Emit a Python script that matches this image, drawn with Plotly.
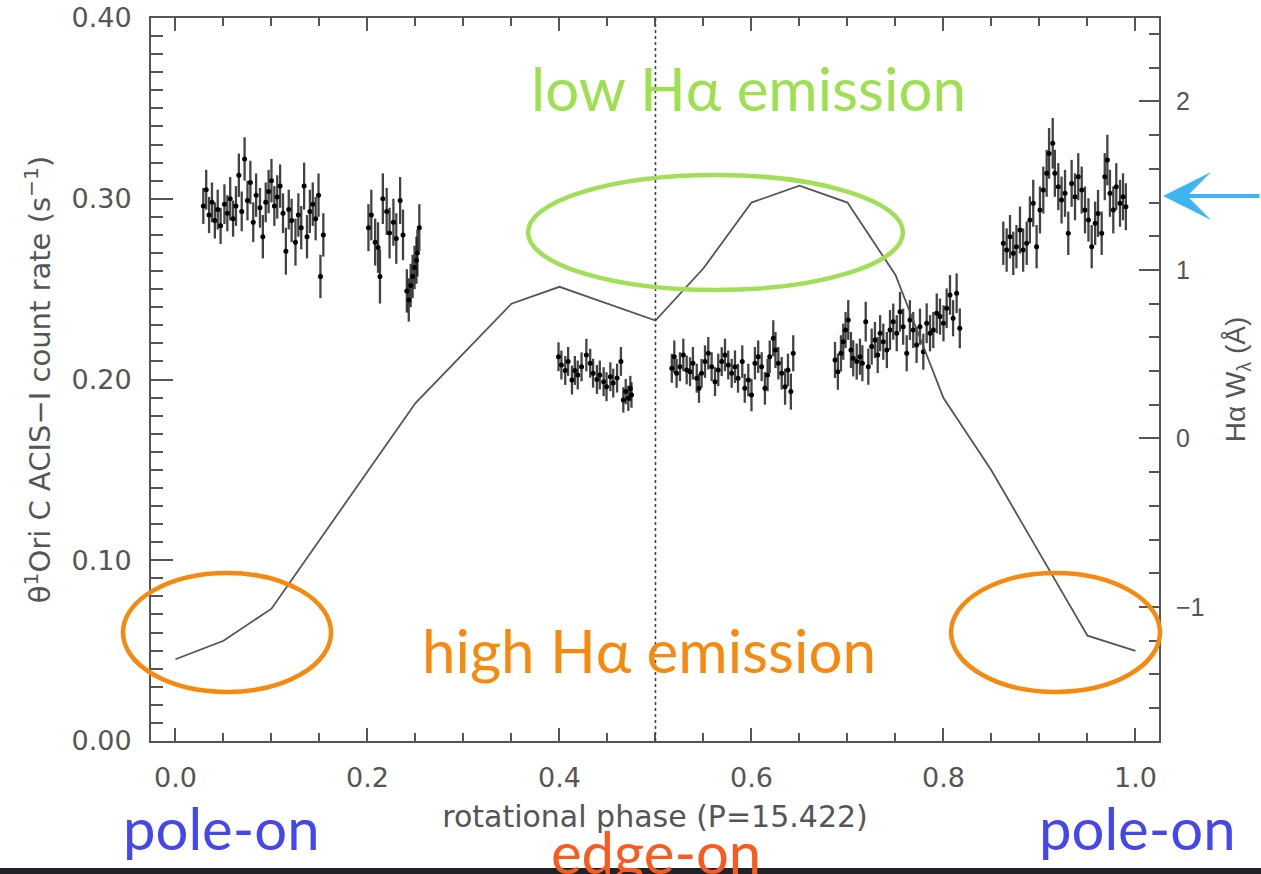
import plotly.graph_objects as go

# ---------------- data ----------------
# H-alpha equivalent width curve (right axis)
ha_phase = [0.00, 0.05, 0.10, 0.25, 0.35, 0.40, 0.50, 0.55, 0.60, 0.65, 0.70, 0.75, 0.80, 0.85, 0.90, 0.95, 1.00]
ha_width = [-1.31, -1.20, -1.01, 0.21, 0.80, 0.90, 0.70, 1.01, 1.40, 1.50, 1.40, 0.97, 0.24, -0.19, -0.68, -1.17, -1.26]

# X-ray count rate (left axis), grouped by observation
obs1_phase = [0.029, 0.032, 0.035, 0.038, 0.041, 0.044, 0.047, 0.051, 0.054, 0.057, 0.060, 0.063, 0.066, 0.069,
              0.072, 0.075, 0.078, 0.081, 0.084, 0.088, 0.091, 0.094, 0.097, 0.100, 0.103, 0.106, 0.109, 0.112,
              0.115, 0.118, 0.121, 0.125, 0.128, 0.131, 0.134, 0.137, 0.140, 0.143, 0.146, 0.149, 0.151, 0.154]
obs1_rate = [0.296, 0.305, 0.291, 0.298, 0.288, 0.294, 0.285, 0.297, 0.292, 0.300, 0.289, 0.296, 0.313, 0.293,
             0.322, 0.299, 0.309, 0.287, 0.302, 0.295, 0.279, 0.298, 0.304, 0.310, 0.296, 0.301, 0.307, 0.292,
             0.271, 0.294, 0.288, 0.276, 0.291, 0.284, 0.307, 0.279, 0.293, 0.297, 0.289, 0.302, 0.257, 0.280]
obs1_err = [0.010, 0.011, 0.010, 0.011, 0.010, 0.011, 0.010, 0.011, 0.010, 0.012, 0.010, 0.011, 0.012, 0.011,
            0.012, 0.011, 0.012, 0.011, 0.012, 0.011, 0.012, 0.011, 0.012, 0.012, 0.011, 0.012, 0.012, 0.011,
            0.013, 0.011, 0.012, 0.013, 0.012, 0.012, 0.013, 0.012, 0.012, 0.012, 0.012, 0.012, 0.012, 0.012]

obs2_phase = [0.201, 0.204, 0.208, 0.211, 0.213, 0.216, 0.220, 0.223, 0.227, 0.230, 0.234, 0.237,
              0.241, 0.243, 0.245, 0.247, 0.249, 0.251, 0.252, 0.254]
obs2_rate = [0.284, 0.291, 0.276, 0.273, 0.257, 0.300, 0.293, 0.281, 0.287, 0.278, 0.299, 0.280,
             0.249, 0.244, 0.252, 0.257, 0.262, 0.266, 0.270, 0.284]
obs2_err = [0.013, 0.014, 0.013, 0.014, 0.015, 0.014, 0.013, 0.014, 0.013, 0.014, 0.013, 0.014,
            0.012, 0.012, 0.012, 0.012, 0.012, 0.013, 0.013, 0.013]

obs3_phase = [0.399, 0.402, 0.406, 0.409, 0.413, 0.416, 0.419, 0.423, 0.428, 0.432, 0.435, 0.439,
              0.442, 0.446, 0.449, 0.453, 0.456, 0.460, 0.464, 0.4665, 0.469, 0.4717, 0.4738, 0.475]
obs3_rate = [0.2126, 0.208, 0.205, 0.210, 0.1997, 0.205, 0.2025, 0.207, 0.2135, 0.209, 0.2035, 0.200,
             0.2025, 0.1988, 0.196, 0.2015, 0.198, 0.2008, 0.210, 0.1887, 0.1933, 0.1896, 0.195, 0.1914]
obs3_err = [0.008, 0.008, 0.008, 0.008, 0.008, 0.008, 0.008, 0.008, 0.009, 0.008, 0.008, 0.008,
            0.008, 0.008, 0.008, 0.008, 0.008, 0.008, 0.008, 0.007, 0.007, 0.007, 0.007, 0.007]

obs4_phase = [0.517, 0.5196, 0.522, 0.5255, 0.529, 0.5325, 0.536, 0.539, 0.543, 0.5453, 0.548, 0.5516,
              0.555, 0.5585, 0.562, 0.5654, 0.569, 0.5724, 0.5758, 0.5794, 0.5828, 0.586, 0.5904, 0.593,
              0.5967, 0.600, 0.6036, 0.607, 0.6106, 0.614, 0.6168, 0.619, 0.6227, 0.625, 0.628, 0.6315,
              0.635, 0.638, 0.641, 0.6435]
obs4_rate = [0.2062, 0.2126, 0.2034, 0.2071, 0.2136, 0.2053, 0.2043, 0.2090, 0.2007, 0.1951, 0.2034, 0.2099,
             0.2145, 0.2071, 0.1988, 0.2053, 0.2099, 0.2136, 0.2080, 0.2034, 0.2071, 0.2007, 0.2099, 0.1951,
             0.1997, 0.1914, 0.2090, 0.2126, 0.2071, 0.1951, 0.2025, 0.2126, 0.2228, 0.2163, 0.2090, 0.2034,
             0.1960, 0.2053, 0.1933, 0.2145]
obs4_err = [0.008, 0.009, 0.008, 0.008, 0.009, 0.008, 0.008, 0.009, 0.008, 0.008, 0.008, 0.009,
            0.009, 0.008, 0.008, 0.009, 0.008, 0.009, 0.008, 0.008, 0.009, 0.008, 0.009, 0.008,
            0.009, 0.009, 0.009, 0.009, 0.008, 0.009, 0.009, 0.009, 0.010, 0.010, 0.009, 0.009,
            0.010, 0.009, 0.010, 0.010]

obs5_phase = [0.687, 0.690, 0.6932, 0.6956, 0.698, 0.7008, 0.7036, 0.706, 0.7096, 0.713, 0.7155, 0.719,
              0.7217, 0.7252, 0.7286, 0.7315, 0.734, 0.7373, 0.741, 0.7443, 0.7477, 0.7513, 0.7547, 0.758,
              0.7617, 0.765, 0.7685, 0.772, 0.7755, 0.779, 0.7825, 0.786, 0.7894, 0.793, 0.7964, 0.800,
              0.8033, 0.8068, 0.810, 0.8137, 0.817]
obs5_rate = [0.2108, 0.2043, 0.2145, 0.2209, 0.2274, 0.2329, 0.2163, 0.2117, 0.2099, 0.2126, 0.2090, 0.2320,
             0.2071, 0.2182, 0.2219, 0.2136, 0.2256, 0.2209, 0.2163, 0.2274, 0.2320, 0.2256, 0.2375, 0.2292,
             0.2145, 0.2329, 0.2274, 0.2191, 0.2292, 0.2154, 0.2311, 0.2256, 0.2274, 0.2366, 0.2348, 0.2311,
             0.2394, 0.2468, 0.2339, 0.2477, 0.2283]
obs5_err = [0.010, 0.010, 0.010, 0.010, 0.010, 0.011, 0.010, 0.010, 0.010, 0.010, 0.010, 0.011,
            0.010, 0.010, 0.010, 0.010, 0.010, 0.010, 0.010, 0.011, 0.010, 0.010, 0.011, 0.010,
            0.010, 0.011, 0.010, 0.010, 0.010, 0.010, 0.011, 0.010, 0.010, 0.011, 0.010, 0.010,
            0.011, 0.011, 0.010, 0.011, 0.011]

obs6_phase = [0.8623, 0.8658, 0.8693, 0.8727, 0.876, 0.8797, 0.883, 0.8867, 0.890, 0.8935, 0.897, 0.9005,
              0.904, 0.9075, 0.910, 0.9138, 0.916, 0.9196, 0.923, 0.9266, 0.930, 0.9335, 0.937, 0.9404,
              0.944, 0.9474, 0.951, 0.9544, 0.958, 0.961, 0.9648, 0.968, 0.9707, 0.9734, 0.9769, 0.980,
              0.9839, 0.987, 0.990]
obs6_rate = [0.2754, 0.2716, 0.2790, 0.2698, 0.2735, 0.2827, 0.2716, 0.2754, 0.2883, 0.2975, 0.2735, 0.2938,
             0.3048, 0.3141, 0.3251, 0.3307, 0.3141, 0.3067, 0.2993, 0.3030, 0.2809, 0.3085, 0.3011, 0.3122,
             0.3048, 0.2938, 0.2883, 0.2735, 0.2864, 0.2919, 0.2809, 0.3122, 0.3214, 0.3030, 0.2938, 0.3067,
             0.2975, 0.3011, 0.2956]
obs6_err = [0.012, 0.012, 0.012, 0.012, 0.012, 0.013, 0.012, 0.012, 0.013, 0.013, 0.012, 0.013,
            0.013, 0.013, 0.014, 0.014, 0.013, 0.013, 0.013, 0.013, 0.012, 0.013, 0.013, 0.013,
            0.013, 0.013, 0.012, 0.012, 0.012, 0.013, 0.012, 0.013, 0.014, 0.013, 0.013, 0.013,
            0.013, 0.013, 0.013]

x_ticks = [0.0, 0.2, 0.4, 0.6, 0.8, 1.0]
y_ticks = [0.00, 0.10, 0.20, 0.30, 0.40]
y2_ticks = [-1, 0, 1, 2]

# ---------------- figure ----------------
fig = go.Figure()

observations = [
    (obs1_phase, obs1_rate, obs1_err),
    (obs2_phase, obs2_rate, obs2_err),
    (obs3_phase, obs3_rate, obs3_err),
    (obs4_phase, obs4_rate, obs4_err),
    (obs5_phase, obs5_rate, obs5_err),
    (obs6_phase, obs6_rate, obs6_err),
]
for ph, rt, er in observations:
    fig.add_trace(go.Scatter(
        x=ph, y=rt, mode="markers",
        marker=dict(size=5, color="black"),
        error_y=dict(type="data", array=er, visible=True, color="rgba(20,20,20,0.8)",
                     thickness=2.3, width=0),
        showlegend=False, yaxis="y", cliponaxis=True,
    ))

fig.add_trace(go.Scatter(
    x=ha_phase, y=ha_width, mode="lines",
    line=dict(color="#555555", width=1.8),
    showlegend=False, yaxis="y2",
))

axis_font = dict(family="DejaVu Sans", size=27, color="#555555")
frame_col = "#555555"

fig.update_layout(
    width=1261, height=874,
    margin=dict(l=151, r=102, t=18, b=133, autoexpand=False),
    paper_bgcolor="white", plot_bgcolor="white",
    xaxis=dict(
        range=[-0.0255, 1.0245], tickvals=x_ticks, tickformat=".1f", automargin=False,
        ticks="inside", ticklen=13, tickwidth=1.5, tickcolor=frame_col,
        minor=dict(dtick=0.05, tick0=0, ticks="inside", ticklen=8, tickwidth=1.5, tickcolor=frame_col),
        showline=True, linecolor=frame_col, linewidth=2, mirror="ticks",
        showgrid=False, zeroline=False, tickfont=axis_font, ticklabelstandoff=12,
        title=dict(text="rotational phase (P=15.422)",
                   font=dict(family="DejaVu Sans", size=30, color="#555555"), standoff=14),
    ),
    yaxis=dict(
        range=[0, 0.40], tickvals=y_ticks, tickformat=".2f", automargin=False,
        ticks="inside", ticklen=22, tickwidth=1.5, tickcolor=frame_col,
        minor=dict(dtick=0.01, tick0=0, ticks="inside", ticklen=12, tickwidth=1.5, tickcolor=frame_col),
        showline=True, linecolor=frame_col, linewidth=2, mirror=True,
        showgrid=False, zeroline=False, tickfont=axis_font, ticklabelstandoff=12,
        title=dict(text="θ<sup>1</sup>Ori C ACIS−I count rate (s<sup>−1</sup>)",
                   font=dict(family="DejaVu Sans", size=29, color="#555555"), standoff=12),
    ),
    yaxis2=dict(
        range=[-1.795, 2.495], tickvals=y2_ticks, overlaying="y", side="right", automargin=False,
        ticks="inside", ticklen=20, tickwidth=1.5, tickcolor=frame_col,
        minor=dict(dtick=0.2, tick0=0, ticks="inside", ticklen=10, tickwidth=1.5, tickcolor=frame_col),
        showline=True, linecolor=frame_col, linewidth=2,
        showgrid=False, zeroline=False,
        tickfont=dict(family="Liberation Sans", size=25, color="#555555"), ticklabelstandoff=10,
        title=dict(text="Hα W<sub>λ</sub> (Å)", font=dict(family="Liberation Sans", size=28, color="#555555"),
                   standoff=22),
    ),
)

# dotted line at phase 0.5
fig.add_shape(type="line", xref="x", yref="paper", x0=0.5, x1=0.5, y0=0, y1=1,
              line=dict(color="#444444", width=1.6, dash="dot"))

# highlight ellipses
fig.add_shape(type="circle", xref="paper", yref="paper", x0=0.374, x1=0.746, y0=0.6238, y1=0.7829,
              line=dict(color="#a2df58", width=4.5))
fig.add_shape(type="circle", xref="paper", yref="paper", x0=-0.0278, x1=0.1786, y0=0.0678, y1=0.2324,
              line=dict(color="#f7890f", width=4.5))
fig.add_shape(type="circle", xref="paper", yref="paper", x0=0.7937, x1=1.001, y0=0.0678, y1=0.2324,
              line=dict(color="#f7890f", width=4.5))

# dark strip at the bottom of the slide
fig.add_shape(type="rect", xref="paper", yref="paper", x0=-0.2, x1=1.2, y0=-0.2, y1=-0.1757,
              line=dict(width=0), fillcolor="#212328")

ann_font = "Lato"
def label(x, y, text, color, size):
    fig.add_annotation(x=x, y=y, xref="paper", yref="paper", text=text, showarrow=False,
                       xanchor="center", yanchor="middle",
                       font=dict(family=ann_font, size=size, color=color))

label(0.5923, 0.9032, "low Hα emission", "#9ee04f", 60)
label(0.4945, 0.1259, "high Hα emission", "#f7890f", 60)
label(0.0704, -0.1203, "pole-on", "#4646ee", 58)
label(0.9787, -0.1203, "pole-on", "#4646ee", 58)
label(0.5005, -0.1535, "edge-on", "#fa5a1e", 58)

# blue arrow pointing at the right axis
fig.add_annotation(x=1.004, y=0.7538, xref="paper", yref="paper", text="",
                   showarrow=True, ax=100, ay=0, axref="pixel", ayref="pixel",
                   arrowhead=3, arrowsize=2.0, arrowwidth=4, arrowcolor="#3cb6f2")

fig.write_html("out.html")
